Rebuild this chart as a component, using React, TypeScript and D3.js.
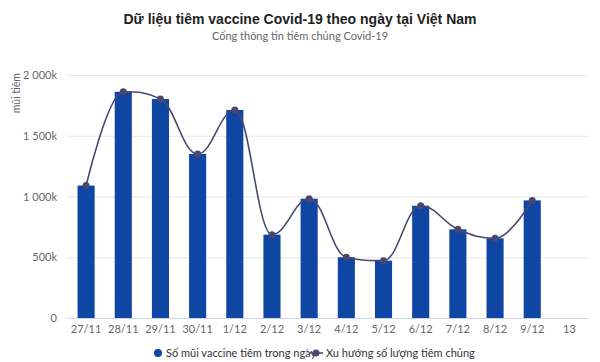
import React, { useEffect, useRef } from 'react';
import * as d3 from 'd3';

// dữ liệu
const categories = ['27/11', '28/11', '29/11', '30/11', '1/12', '2/12', '3/12', '4/12', '5/12', '6/12', '7/12', '8/12', '9/12', '13'];
const dailyDoses = [1090, 1862, 1802, 1350, 1712, 686, 982, 500, 472, 924, 730, 656, 968];
const trendDoses = [1090, 1862, 1802, 1350, 1712, 686, 982, 500, 472, 924, 730, 656, 968];
const yTicks = [0, 500, 1000, 1500, 2000];
const yTickLabels = ['0', '500k', '1 000k', '1 500k', '2 000k'];

const BAR_COLOR = '#0f46a3';
const LINE_COLOR = '#4b4870';
const FONT = 'Lato, "Open Sans", sans-serif';

// curve kiểu "spline" (điểm điều khiển bị chặn để không vọt quá nhiều)
const splineCurve = (context: any) => {
  let pts: [number, number][] = [];
  return {
    areaStart() {},
    areaEnd() {},
    lineStart() { pts = []; },
    point(px: number, py: number) { pts.push([+px, +py]); },
    lineEnd() {
      const n = pts.length;
      if (!n) return;
      const ctrl = pts.map(([px, py], i) => {
        if (i === 0 || i === n - 1) return null;
        const [lx, ly] = pts[i - 1];
        const [nx, ny] = pts[i + 1];
        const lcx = (1.5 * px + lx) / 2.5;
        let lcy = (1.5 * py + ly) / 2.5;
        const rcx = (1.5 * px + nx) / 2.5;
        let rcy = (1.5 * py + ny) / 2.5;
        if (rcx !== lcx) {
          const corr = ((rcy - lcy) * (rcx - px)) / (rcx - lcx) + py - rcy;
          lcy += corr;
          rcy += corr;
        }
        if (lcy > ly && lcy > py) { lcy = Math.max(ly, py); rcy = 2 * py - lcy; }
        else if (lcy < ly && lcy < py) { lcy = Math.min(ly, py); rcy = 2 * py - lcy; }
        if (rcy > ny && rcy > py) { rcy = Math.max(ny, py); lcy = 2 * py - rcy; }
        else if (rcy < ny && rcy < py) { rcy = Math.min(ny, py); lcy = 2 * py - rcy; }
        return { lcx, lcy, rcx, rcy };
      });
      context.moveTo(pts[0][0], pts[0][1]);
      for (let i = 1; i < n; i++) {
        const a = ctrl[i - 1];
        const b = ctrl[i];
        context.bezierCurveTo(
          a ? a.rcx : pts[i - 1][0], a ? a.rcy : pts[i - 1][1],
          b ? b.lcx : pts[i][0], b ? b.lcy : pts[i][1],
          pts[i][0], pts[i][1]
        );
      }
    },
  };
};

const App = () => {
  const svgRef = useRef<SVGSVGElement>(null);

  useEffect(() => {
    const svg = d3.select(svgRef.current);
    svg.selectAll('*').remove();

    const W = 600;
    const H = 362;
    const left = 67.5;
    const right = 588;
    const top = 75;
    const bottom = 318;

    svg.attr('width', W).attr('height', H);

    // Tiêu đề
    svg.append('text')
      .attr('x', W / 2).attr('y', 24)
      .attr('text-anchor', 'middle')
      .style('font-family', '"Liberation Sans", Arial, sans-serif')
      .style('font-size', '14px')
      .style('font-weight', 'bold')
      .attr('fill', '#222')
      .text('Dữ liệu tiêm vaccine Covid-19 theo ngày tại Việt Nam');

    svg.append('text')
      .attr('x', W / 2).attr('y', 40)
      .attr('text-anchor', 'middle')
      .style('font-family', FONT)
      .style('font-size', '11px')
      .attr('fill', '#666')
      .text('Cổng thông tin tiêm chủng Covid-19');

    // Thang đo
    const x = d3.scaleBand<string>()
      .domain(categories)
      .range([left, right])
      .paddingInner(0.54)
      .paddingOuter(0.27);

    const y = d3.scaleLinear()
      .domain([0, 2000])
      .range([bottom, top]);

    // Lưới
    svg.append('g')
      .selectAll('line')
      .data(yTicks.filter(t => t > 0))
      .enter().append('line')
      .attr('x1', left).attr('x2', right)
      .attr('y1', d => y(d) + 0.5).attr('y2', d => y(d) + 0.5)
      .attr('stroke', '#e6e6e6');

    svg.append('line')
      .attr('x1', left).attr('x2', right)
      .attr('y1', bottom + 0.5).attr('y2', bottom + 0.5)
      .attr('stroke', '#ccd6eb');

    // Nhãn trục Y
    svg.append('g')
      .selectAll('text')
      .data(yTicks)
      .enter().append('text')
      .attr('x', 57)
      .attr('y', d => y(d) + 4)
      .attr('text-anchor', 'end')
      .style('font-family', FONT)
      .style('font-size', '11px')
      .attr('fill', '#666')
      .text((d, i) => yTickLabels[i]);

    svg.append('text')
      .attr('transform', 'translate(20,73) rotate(-90)')
      .attr('text-anchor', 'end')
      .style('font-family', FONT)
      .style('font-size', '10.5px')
      .attr('fill', '#666')
      .text('mũi tiêm');

    // Nhãn trục X
    svg.append('g')
      .selectAll('text')
      .data(categories)
      .enter().append('text')
      .attr('x', d => (x(d) as number) + x.bandwidth() / 2)
      .attr('y', 333)
      .attr('text-anchor', 'middle')
      .style('font-family', FONT)
      .style('font-size', '11px')
      .attr('fill', '#666')
      .text(d => d);

    // Cột
    svg.append('g')
      .selectAll('rect')
      .data(dailyDoses)
      .enter().append('rect')
      .attr('x', (d, i) => x(categories[i]) as number)
      .attr('width', x.bandwidth())
      .attr('y', d => y(d))
      .attr('height', d => bottom - y(d))
      .attr('fill', BAR_COLOR);

    // Đường xu hướng
    const cx = (i: number) => (x(categories[i]) as number) + x.bandwidth() / 2;
    const line = d3.line<number>()
      .x((d, i) => cx(i))
      .y(d => y(d))
      .curve(splineCurve as any);

    svg.append('path')
      .datum(trendDoses)
      .attr('d', line)
      .attr('fill', 'none')
      .attr('stroke', LINE_COLOR)
      .attr('stroke-width', 1.6);

    svg.append('g')
      .selectAll('circle')
      .data(trendDoses)
      .enter().append('circle')
      .attr('cx', (d, i) => cx(i))
      .attr('cy', d => y(d))
      .attr('r', 3.5)
      .attr('fill', LINE_COLOR);

    // Chú giải
    const legend = svg.append('g').style('font-family', FONT).style('font-size', '11px');
    legend.append('circle').attr('cx', 158).attr('cy', 353).attr('r', 4).attr('fill', BAR_COLOR);
    legend.append('text').attr('x', 166).attr('y', 357).attr('fill', '#333')
      .text('Số mũi vaccine tiêm trong ngày');
    legend.append('line').attr('x1', 309).attr('x2', 323).attr('y1', 353).attr('y2', 353)
      .attr('stroke', LINE_COLOR).attr('stroke-width', 1.6);
    legend.append('circle').attr('cx', 316).attr('cy', 353).attr('r', 3.5).attr('fill', LINE_COLOR);
    legend.append('text').attr('x', 326).attr('y', 357).attr('fill', '#333')
      .text('Xu hướng số lượng tiêm chủng');
  }, []);

  return <svg ref={svgRef} style={{ position: 'absolute', left: 0, top: 0 }}></svg>;
};

export default App;
